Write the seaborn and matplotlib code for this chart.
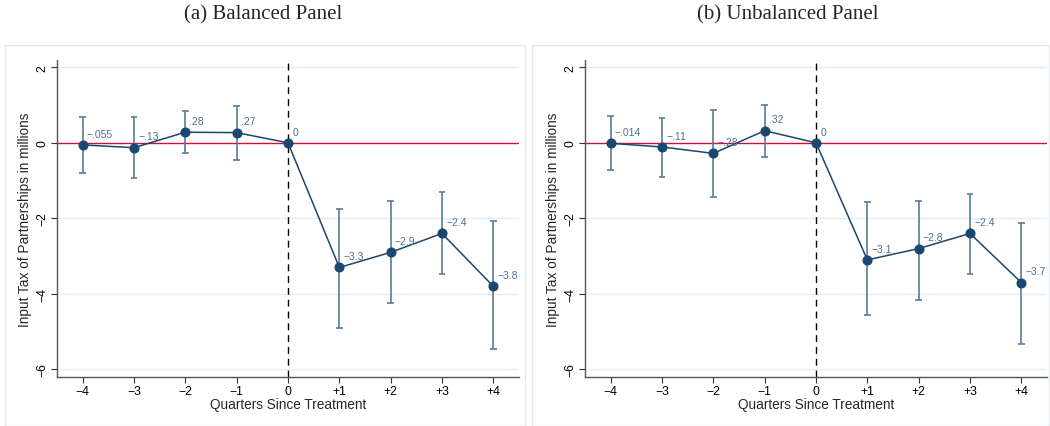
import matplotlib
matplotlib.use("Agg")
import matplotlib.pyplot as plt
import seaborn as sns
import pandas as pd
from matplotlib.patches import Rectangle

quarters = [-4, -3, -2, -1, 0, 1, 2, 3, 4]
tick_labels = ["\u22124", "\u22123", "\u22122", "\u22121", "0", "+1", "+2", "+3", "+4"]

bal_coef = [-0.055, -0.13, 0.28, 0.27, 0.0, -3.3, -2.9, -2.4, -3.8]
bal_lo = [-0.80, -0.94, -0.27, -0.45, None, -4.91, -4.24, -3.47, -5.46]
bal_hi = [0.67, 0.67, 0.83, 0.98, None, -1.75, -1.54, -1.31, -2.08]
bal_text = ["\u2212.055", "\u2212.13", ".28", ".27", "0", "\u22123.3", "\u22122.9", "\u22122.4", "\u22123.8"]

unb_coef = [-0.014, -0.11, -0.28, 0.32, 0.0, -3.1, -2.8, -2.4, -3.7]
unb_lo = [-0.73, -0.90, -1.44, -0.37, None, -4.55, -4.15, -3.47, -5.33]
unb_hi = [0.71, 0.66, 0.875, 1.01, None, -1.57, -1.53, -1.36, -2.12]
unb_text = ["\u2212.014", "\u2212.11", "\u2212.28", ".32", "0", "\u22123.1", "\u22122.8", "\u22122.4", "\u22123.7"]

titles = ["(a) Balanced Panel", "(b) Unbalanced Panel"]
ylabel = "Input Tax of Partnerships in millions"
xlabel = "Quarters Since Treatment"

sns.set_theme(style="white")
plt.rcParams['font.family'] = ['Liberation Sans', 'DejaVu Sans']

NAVY = "#1a476f"
CI = "#5a7b9c"
LAB = "#4f6f90"
GRID = "#e3edf0"
RED = "#d0103a"

fig = plt.figure(figsize=(10.5, 4.27), dpi=100)

# panel frames
for x0, x1 in [(5 / 1050, 525 / 1050), (532 / 1050, 1049 / 1050)]:
    fig.patches.append(Rectangle((x0, 0.0), x1 - x0, 1 - 46 / 427, transform=fig.transFigure,
                                 fill=False, edgecolor="#e4eaec", linewidth=1.0))

axes_pos = [[57 / 1050, 1 - 378 / 427, 462 / 1050, (378 - 60.7) / 427],
            [585 / 1050, 1 - 378 / 427, 462 / 1050, (378 - 60.7) / 427]]
title_x = [263 / 1050, 788 / 1050]

datasets = [(bal_coef, bal_lo, bal_hi, bal_text), (unb_coef, unb_lo, unb_hi, unb_text)]

for i, (coef, lo, hi, txt) in enumerate(datasets):
    ax = fig.add_axes(axes_pos[i])
    df = pd.DataFrame({"q": quarters, "coef": coef, "lo": lo, "hi": hi})
    ax.set_xlim(-4.5, 4.5)
    ax.set_ylim(-6.2, 2.2)
    for yv in [2, -2, -4, -6]:
        ax.axhline(yv, color=GRID, linewidth=1.0, zorder=0)
    ax.axhline(0, color=RED, linewidth=1.0, zorder=1)
    ax.axvline(0, color="black", linewidth=1.0, linestyle=(0, (5, 3.5)), zorder=1)
    ci = df.dropna()
    ax.vlines(ci["q"], ci["lo"], ci["hi"], color=CI, linewidth=1.2, zorder=2)
    ax.hlines(ci["lo"], ci["q"] - 0.065, ci["q"] + 0.065, color=CI, linewidth=1.2, zorder=2)
    ax.hlines(ci["hi"], ci["q"] - 0.065, ci["q"] + 0.065, color=CI, linewidth=1.2, zorder=2)
    sns.lineplot(data=df, x="q", y="coef", ax=ax, color=NAVY, linewidth=1.1,
                 marker="o", markersize=6.5, markeredgecolor=NAVY, zorder=3)
    for q, c, t in zip(quarters, coef, txt):
        ax.annotate(t, (q, c), xytext=(3, 4.5), textcoords="offset points",
                    ha="left", va="bottom", fontsize=7.5, color=LAB, zorder=4)
    ax.set_xticks(quarters)
    ax.set_xticklabels(tick_labels)
    ax.set_yticks([2, 0, -2, -4, -6])
    ax.set_yticklabels(["2", "0", "\u22122", "\u22124", "\u22126"], rotation=90, va="center")
    ax.tick_params(axis="both", which="both", length=4, width=0.8, color="#333333",
                   labelsize=8.8, labelcolor="black", pad=2, bottom=True, left=True)
    for s in ["top", "right"]:
        ax.spines[s].set_visible(False)
    for s in ["left", "bottom"]:
        ax.spines[s].set_color("#555555")
        ax.spines[s].set_linewidth(1.0)
    ax.set_xlabel(xlabel, fontsize=9.8, labelpad=0)
    ax.set_ylabel(ylabel, fontsize=9.8, labelpad=3)
    fig.text(title_x[i], 1 - 15 / 427, titles[i], ha="center", va="center",
             fontsize=15, family=["Liberation Serif", "DejaVu Serif"])

fig.savefig("out.png", dpi=100)
